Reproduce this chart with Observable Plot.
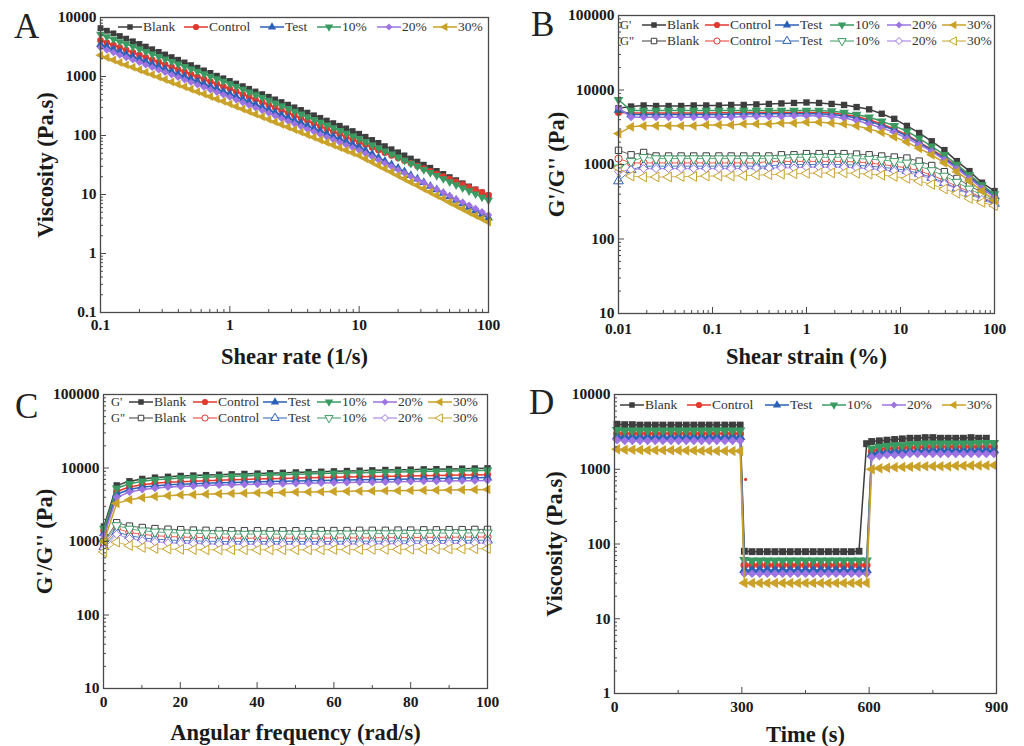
<!DOCTYPE html>
<html><head><meta charset="utf-8">
<script src="https://cdn.jsdelivr.net/npm/d3@7"></script>
<script src="https://cdn.jsdelivr.net/npm/@observablehq/plot@0.6"></script>
<style>
body{margin:0;background:#fff;}
#fig{position:relative;width:1024px;height:746px;overflow:hidden;background:#fff;font-family:"Liberation Serif",serif;}
#fig svg text{font-family:"Liberation Serif",serif;}
.letter{position:absolute;font-size:35px;color:#222;line-height:1;font-family:"Liberation Serif",serif;}
.leg{position:absolute;font-size:13.5px;color:#333;white-space:nowrap;line-height:14px;font-family:"Liberation Serif",serif;}
g[aria-label="x-axis label"], g[aria-label="y-axis label"]{font-size:22.5px;font-weight:bold;fill:#1a1a1a;}
g[aria-label="x-axis tick label"], g[aria-label="y-axis tick label"]{font-size:15.5px;font-weight:bold;fill:#1a1a1a;}
</style>
</head><body>
<div id="fig"></div>
<script>
// ---------- series ----------
const seriesNames = ["Blank","Control","Test","10%","20%","30%"];
const colors = ["#3d3d3d","#e2392f","#2b61b6","#3a9a62","#9d74e2","#c9a227"];

// ---------- Panel A: viscosity vs shear rate ----------
const rateA = [0.1,0.112,0.126,0.141,0.158,0.178,0.2,0.224,0.251,0.282,0.316,0.355,0.398,0.447,0.501,0.562,0.631,0.708,0.794,0.891,1,1.12,1.26,1.41,1.58,1.78,2,2.24,2.51,2.82,3.16,3.55,3.98,4.47,5.01,5.62,6.31,7.08,7.94,8.91,10,11.2,12.6,14.1,15.8,17.8,20,22.4,25.1,28.2,31.6,35.5,39.8,44.7,50.1,56.2,63.1,70.8,79.4,89.1,100];
const blankA = [6600,5960,5380,4850,4380,3950,3560,3210,2900,2610,2360,2130,1920,1730,1560,1410,1270,1150,1030,933,840,760,685,618,557,502,453,409,369,333,300,271,244,220,199,179,162,146,132,119,107,95,84,75,66,58.5,51.9,46,40.7,36.1,32,28.4,25.1,22.3,19.7,17.5,15.5,13.7,12.2,10.8,9.5];
const controlA = [4100,3733,3396,3090,2808,2553,2323,2113,1923,1750,1590,1446,1315,1197,1089,990,901,819,745,678,617,556,501,451,406,366,330,298,268,242,218,196,177,159,144,129,117,105,94.7,85.3,76.9,69.4,62.5,56.5,50.9,45.9,41.4,37.4,33.7,30.4,27.4,24.8,22.3,20.1,18.2,16.4,14.8,13.3,12,10.9,9.8];
const testA = [3500,3177,2884,2618,2377,2160,1963,1782,1618,1469,1334,1211,1099,998,906,823,748,679,617,560,508,458,413,372,336,303,273,246,222,200,180,163,147,132,119,107,96.8,87.3,78.7,71,64,55.7,48.5,42.2,36.7,32,27.9,24.3,21.1,18.4,16,13.9,12.1,10.5,9.2,8,7,6.1,5.3,4.6,4];
const p10A = [5200,4720,4285,3890,3532,3206,2911,2642,2399,2178,1977,1795,1629,1479,1343,1219,1107,1005,912,828,752,675,607,545,490,440,394,355,318,286,257,231,207,186,167,150,135,121,109,98,88,78,69,61.4,54.5,48.3,42.9,38,33.7,29.9,26.5,23.6,20.9,18.5,16.4,14.6,12.9,11.5,10.2,9,8];
const p20A = [3100,2812,2553,2317,2102,1908,1731,1572,1427,1295,1175,1066,968,878,797,723,657,596,541,491,446,402,362,326,294,265,239,216,194,175,158,142,128,116,104,94,84.7,76.4,68.9,62.1,56,49.3,43.5,38.3,33.8,29.8,26.2,23.1,20.4,18,15.9,14,12.3,10.9,9.6,8.4,7.4,6.6,5.8,5.1,4.5];
const p30A = [2300,2094,1904,1731,1574,1431,1302,1184,1076,979,890,809,736,670,609,554,504,458,416,379,344,311,282,255,230,208,188,170,154,139,126,114,103,93.1,84.1,76.2,68.9,62.2,56.2,50.9,46,40.4,35.5,31.1,27.4,24,21,18.5,16.2,14.3,12.5,11,9.6,8.5,7.4,6.5,5.7,5,4.4,3.9,3.4];
const yTicksA = [0.1,1,10,100,1000,10000];
const xTicksA = [0.1,1,10,100];

// ---------- Panel B: amplitude sweep ----------
const strainB = [0.01,0.0136,0.0185,0.0251,0.0341,0.0464,0.0631,0.0858,0.117,0.158,0.215,0.293,0.398,0.541,0.736,1,1.36,1.85,2.51,3.41,4.64,6.31,8.58,11.7,15.8,21.5,29.3,39.8,54.1,73.6,100];
const gpBlankB = [5700,6000,6200,6100,6100,6100,6200,6200,6200,6300,6300,6400,6500,6600,6700,6800,6700,6500,6300,5900,5500,4800,4100,3300,2650,2050,1560,1110,815,570,440];
const gpControlB = [5000,4900,4900,4900,4900,4900,4900,4900,4950,4950,5000,5000,5000,5000,5000,5000,5000,4900,4700,4400,4000,3500,3000,2500,2000,1600,1250,950,700,520,390];
const gpTestB = [5400,4700,4700,4700,4700,4700,4700,4700,4700,4750,4750,4800,4800,4800,4800,4800,4800,4700,4500,4200,3800,3350,2900,2400,1950,1550,1200,920,680,500,380];
const gp10B = [7400,5300,5300,5300,5300,5300,5300,5300,5300,5300,5300,5300,5300,5300,5300,5300,5300,5200,5000,4700,4300,3800,3300,2800,2250,1750,1350,1000,730,530,400];
const gp20B = [5800,4300,4300,4300,4300,4300,4300,4300,4300,4300,4400,4400,4400,4400,4500,4500,4500,4400,4200,3900,3500,3100,2700,2250,1850,1500,1150,880,650,480,360];
const gp30B = [2600,3200,3300,3300,3300,3300,3300,3400,3400,3400,3500,3500,3500,3600,3600,3700,3700,3600,3500,3300,3000,2700,2350,2000,1650,1350,1050,800,600,440,330];
const gppBlankB = [1550,1350,1450,1300,1300,1300,1300,1300,1300,1300,1300,1300,1300,1350,1350,1400,1400,1400,1400,1380,1350,1300,1260,1220,1110,970,800,650,520,420,340];
const gppControlB = [1200,1050,1050,1050,1050,1050,1050,1050,1050,1050,1050,1050,1100,1100,1100,1100,1100,1100,1100,1080,1050,1000,950,900,820,720,610,510,430,360,310];
const gppTestB = [600,850,950,950,950,950,950,950,950,950,950,950,950,1000,1000,1000,1000,1000,1000,980,950,920,880,830,760,670,570,480,410,350,300];
const gpp10B = [900,1100,1250,1200,1200,1200,1200,1200,1200,1200,1200,1200,1200,1200,1250,1250,1250,1250,1250,1200,1180,1150,1100,1050,950,830,700,580,470,390,320];
const gpp20B = [800,850,880,880,880,880,880,880,880,880,880,900,900,900,900,920,920,920,920,900,880,850,820,780,720,640,550,470,400,340,290];
const gpp30B = [900,700,680,680,680,690,690,700,700,700,710,720,730,740,750,760,770,770,770,760,740,720,690,650,600,540,470,410,350,310,280];
const yTicksB = [10,100,1000,10000,100000];
const xTicksB = [0.01,0.1,1,10,100];

// ---------- Panel C: frequency sweep ----------
const freqC = [0.1,3.43,6.76,10.1,13.4,16.8,20.1,23.4,26.7,30.1,33.4,36.7,40.1,43.4,46.7,50.1,53.4,56.7,60,63.4,66.7,70,73.4,76.7,80,83.4,86.7,90,93.4,96.7,100];
const gpBlankC = [1600,5800,6600,7100,7400,7600,7800,7900,8000,8100,8200,8300,8400,8500,8600,8700,8800,8900,9000,9100,9200,9300,9400,9450,9500,9600,9650,9700,9800,9850,9900];
const gpControlC = [1400,4800,5500,5900,6200,6400,6500,6600,6700,6800,6900,7000,7100,7150,7200,7300,7350,7400,7500,7550,7600,7650,7700,7750,7800,7850,7900,7950,8000,8050,8100];
const gpTestC = [1300,4400,5100,5500,5700,5900,6000,6100,6200,6300,6350,6400,6500,6550,6600,6650,6700,6750,6800,6850,6900,6950,7000,7050,7100,7150,7200,7250,7300,7350,7400];
const gp10C = [1500,5300,6100,6600,6900,7100,7300,7400,7500,7600,7700,7800,7900,8000,8100,8200,8300,8400,8500,8550,8600,8700,8800,8850,8900,9000,9050,9100,9150,9200,9300];
const gp20C = [1200,4000,4700,5100,5300,5500,5600,5700,5800,5850,5900,5950,6000,6050,6100,6150,6200,6250,6300,6350,6400,6400,6450,6500,6550,6600,6600,6650,6700,6700,6750];
const gp30C = [1000,3300,3700,3950,4100,4200,4300,4350,4400,4450,4500,4550,4600,4620,4650,4700,4720,4750,4800,4820,4850,4870,4900,4920,4950,4970,5000,5020,5050,5070,5100];
const gppBlankC = [1000,1800,1620,1550,1500,1470,1450,1430,1420,1410,1400,1400,1400,1400,1400,1400,1400,1410,1410,1410,1420,1420,1420,1430,1430,1440,1440,1450,1450,1460,1460];
const gppControlC = [900,1500,1330,1250,1200,1170,1150,1140,1130,1120,1110,1110,1110,1110,1110,1110,1110,1110,1120,1120,1120,1120,1130,1130,1130,1140,1140,1140,1150,1150,1150];
const gppTestC = [850,1350,1200,1120,1080,1050,1030,1020,1010,1000,1000,1000,1000,1000,1000,1000,1000,1000,1000,1010,1010,1010,1010,1020,1020,1020,1030,1030,1030,1040,1040];
const gpp10C = [950,1650,1480,1400,1350,1320,1300,1290,1280,1270,1260,1260,1260,1260,1260,1260,1260,1260,1270,1270,1270,1280,1280,1280,1290,1290,1300,1300,1300,1310,1310];
const gpp20C = [800,1250,1100,1030,990,960,950,940,930,920,920,920,920,920,920,920,920,920,920,920,930,930,930,930,940,940,940,940,950,950,950];
const gpp30C = [720,980,880,830,800,790,780,775,770,770,770,770,770,770,770,770,770,770,775,775,775,780,780,780,785,785,790,790,790,795,800];
const yTicksC = [10,100,1000,10000,100000];
const xTicksC = [0,20,40,60,80,100];
const xMinorC = [10,30,50,70,90];

// ---------- Panel D: three-interval thixotropy ----------
const timeD = [6,24,42,60,78,96,114,133,151,169,187,205,223,241,260,278,296,
  306,324,342,360,378,396,414,432,450,468,486,504,522,540,558,576,594,
  606,624,642,660,678,696,714,732,750,768,786,804,822,840,858,876,894];
const blankD = [4000,3950,3950,3900,3900,3900,3900,3900,3900,3900,3900,3900,3900,3900,3900,3900,3900,
  80,79,79,79,79,79,79,79,79,79,79,79,79,79,79,80,
  2200,2350,2400,2450,2500,2550,2600,2600,2650,2650,2600,2600,2600,2600,2650,2600,2600];
const controlD = [3000,3000,3000,3000,3000,3000,3000,3000,3000,3000,3000,3000,3000,3000,3000,3000,3000,
  52,52,52,52,52,52,52,52,52,52,52,52,52,52,52,52,52,
  1750,1850,1900,1900,1950,1950,1950,2000,2000,2000,2000,2000,2000,2000,2000,2000,2000];
const testD = [2750,2700,2700,2700,2700,2700,2700,2700,2700,2700,2700,2700,2700,2700,2700,2700,2700,
  45,45,45,45,45,45,45,45,45,45,45,45,45,45,45,45,45,
  1600,1700,1700,1750,1750,1750,1750,1800,1800,1800,1800,1800,1800,1800,1800,1800,1800];
const p10D = [3350,3300,3300,3300,3300,3300,3300,3300,3300,3300,3300,3300,3300,3300,3300,3300,3300,
  61,60,60,60,60,60,60,60,60,60,60,60,60,60,60,60,60,
  1900,2000,2050,2100,2100,2150,2150,2200,2200,2200,2200,2200,2200,2200,2250,2250,2250];
const p20D = [2450,2400,2400,2400,2400,2400,2400,2400,2400,2400,2400,2400,2400,2400,2400,2400,2400,
  40,40,40,40,40,40,40,40,40,40,40,40,40,40,40,40,40,
  1450,1500,1550,1550,1550,1600,1600,1600,1600,1600,1600,1600,1600,1600,1600,1600,1600];
const p30D = [1850,1830,1820,1810,1800,1800,1790,1790,1780,1780,1780,1770,1770,1760,1760,1750,1750,
  30,30,30,30,30,30,30,30,30,30,30,30,30,30,30,30,30,
  1000,1030,1050,1060,1070,1080,1090,1100,1100,1100,1100,1110,1110,1120,1120,1120,1130];
const controlSpikeT = [309];
const controlSpikeV = [730];
const yTicksD = [1,10,100,1000,10000];
const xTicksD = [0,300,600,900];
const xMinorD = [150,450,750];

// ---------- helpers ----------
function triangle(angle){
  return {draw(ctx, size){
    const y = -Math.sqrt(size / (Math.sqrt(3) * 3));
    const pts = [[0, 2*y], [-Math.sqrt(3)*y, -y], [Math.sqrt(3)*y, -y]];
    const c = Math.cos(angle), s = Math.sin(angle);
    pts.forEach(([px,py], i) => {
      const X = px*c - py*s, Y = px*s + py*c;
      i ? ctx.lineTo(X, Y) : ctx.moveTo(X, Y);
    });
    ctx.closePath();
  }};
}
const symbols = [d3.symbolSquare, d3.symbolCircle, triangle(0), triangle(Math.PI), d3.symbolDiamond2, triangle(-Math.PI/2)];
const minors = majors => majors.slice(0, -1).flatMap(m => [2,3,4,5,6,7,8,9].map(k => m * k));

function seriesMarks(xs, ys, idx, {filled = true, r = 3.5, sw = 1.5, opacity = 1} = {}) {
  const data = ys.map((v, i) => ({x: xs[i], y: v}));
  return [
    Plot.line(data, {x: "x", y: "y", stroke: colors[idx], strokeWidth: sw, strokeOpacity: opacity}),
    Plot.dot(data, {x: "x", y: "y", r, symbol: symbols[idx],
      fill: filled ? colors[idx] : "white", stroke: filled ? "none" : colors[idx], strokeWidth: 1})
  ];
}

const frameColor = "#4a4a4a";
function chart(o) {
  return Plot.plot({
    width: 512, height: 373,
    marginLeft: o.ml, marginRight: o.mr, marginTop: o.mt, marginBottom: o.mb,
    style: {fontFamily: "Liberation Serif", background: "transparent", color: "#1a1a1a", overflow: "visible"},
    x: o.x, y: o.y,
    marks: [
      ...o.marks,
      Plot.frame({stroke: frameColor, strokeWidth: 1.3}),
      Plot.axisY(o.yMajor, {anchor: "left", tickSize: 0, tickPadding: 4, tickFormat: d => String(d), label: o.yLabel, labelAnchor: "center", labelArrow: false, labelOffset: o.yLabelOffset}),
      Plot.axisY(o.yMajor, {anchor: "left", tickSize: 6, dx: 6, tickFormat: () => "", label: null, stroke: frameColor}),
      Plot.axisY(o.yMinor, {anchor: "left", tickSize: 3, dx: 3, tickFormat: () => "", label: null, stroke: frameColor}),
      Plot.axisX(o.xMajor, {anchor: "bottom", tickSize: 0, tickPadding: o.xPad, tickFormat: d => String(d), label: o.xLabel, labelAnchor: "center", labelArrow: false, labelOffset: o.xLabelOffset}),
      Plot.axisX(o.xMajor, {anchor: "bottom", tickSize: 6, dy: -6, tickFormat: () => "", label: null, stroke: frameColor}),
      Plot.axisX(o.xMinor, {anchor: "bottom", tickSize: 3, dy: -3, tickFormat: () => "", label: null, stroke: frameColor})
    ]
  });
}

const fig = document.getElementById("fig");
function place(node, left, top) {
  const d = document.createElement("div");
  d.style.position = "absolute"; d.style.left = left + "px"; d.style.top = top + "px";
  d.appendChild(node); fig.appendChild(d);
}
function letter(t, left, top) {
  const d = document.createElement("div");
  d.className = "letter"; d.textContent = t;
  d.style.left = left + "px"; d.style.top = top + "px";
  fig.appendChild(d);
}
function legendItem(left, y, idx, filled, label) {
  const w = 24;
  const svg = d3.select(fig).append("svg")
    .style("position", "absolute").style("left", left + "px").style("top", (y - 6) + "px")
    .attr("width", w).attr("height", 12);
  svg.append("line").attr("x1", 0).attr("x2", w).attr("y1", 6).attr("y2", 6)
    .attr("stroke", colors[idx]).attr("stroke-width", filled ? 1.5 : 1);
  svg.append("path").attr("transform", "translate(12,6)")
    .attr("d", d3.symbol(symbols[idx], 30)())
    .attr("fill", filled ? colors[idx] : "white")
    .attr("stroke", filled ? "none" : colors[idx]).attr("stroke-width", 1);
  d3.select(fig).append("div").attr("class", "leg")
    .style("left", (left + w + 1) + "px").style("top", (y - 7) + "px").text(label);
}
function legendText(t, left, y) {
  d3.select(fig).append("div").attr("class", "leg")
    .style("left", left + "px").style("top", (y - 7) + "px").style("font-size", "12.5px").text(t);
}

// ---------- Panel A ----------
const seriesA = [blankA, controlA, testA, p10A, p20A, p30A];
place(chart({
  ml: 100, mr: 24, mt: 17, mb: 61, xPad: 6,
  x: {type: "log", domain: [0.1, 100]},
  y: {type: "log", domain: [0.1, 10000]},
  xMajor: xTicksA, xMinor: minors(xTicksA), yMajor: yTicksA, yMinor: minors(yTicksA),
  xLabel: "Shear rate (1/s)", yLabel: "Viscosity (Pa.s)",
  xLabelOffset: 51, yLabelOffset: 63,
  marks: seriesA.flatMap((s, i) => seriesMarks(rateA, s, i, {r: 3.3}))
}), 0, 0);

// ---------- Panel B ----------
const gpB = [gpBlankB, gpControlB, gpTestB, gp10B, gp20B, gp30B];
const gppB = [gppBlankB, gppControlB, gppTestB, gpp10B, gpp20B, gpp30B];
place(chart({
  ml: 106, mr: 30, mt: 15, mb: 60, xPad: 9,
  x: {type: "log", domain: [0.01, 100]},
  y: {type: "log", domain: [10, 100000]},
  xMajor: xTicksB, xMinor: minors(xTicksB), yMajor: yTicksB, yMinor: minors(yTicksB),
  xLabel: "Shear strain (%)", yLabel: "G'/G'' (Pa)",
  xLabelOffset: 50, yLabelOffset: 70,
  marks: [
    ...gppB.flatMap((s, i) => seriesMarks(strainB, s, i, {filled: false, r: 3.6, sw: 1, opacity: 0.8})),
    ...gpB.flatMap((s, i) => seriesMarks(strainB, s, i, {r: 3.6}))
  ]
}), 512, 0);

// ---------- Panel C ----------
const gpC = [gpBlankC, gpControlC, gpTestC, gp10C, gp20C, gp30C];
const gppC = [gppBlankC, gppControlC, gppTestC, gpp10C, gpp20C, gpp30C];
place(chart({
  ml: 103, mr: 25, mt: 21, mb: 58, xPad: 7,
  x: {type: "linear", domain: [0, 100]},
  y: {type: "log", domain: [10, 100000]},
  xMajor: xTicksC, xMinor: xMinorC, yMajor: yTicksC, yMinor: minors(yTicksC),
  xLabel: "Angular frequency (rad/s)", yLabel: "G'/G'' (Pa)",
  xLabelOffset: 51, yLabelOffset: 67,
  marks: [
    ...gppC.flatMap((s, i) => seriesMarks(freqC, s, i, {filled: false, r: 3.6, sw: 1, opacity: 0.8})),
    ...gpC.flatMap((s, i) => seriesMarks(freqC, s, i, {r: 3.6}))
  ]
}), 0, 373);

// ---------- Panel D ----------
const seriesD = [blankD, controlD, testD, p10D, p20D, p30D];
place(chart({
  ml: 102, mr: 28, mt: 21, mb: 53, xPad: 7,
  x: {type: "linear", domain: [0, 900]},
  y: {type: "log", domain: [1, 10000]},
  xMajor: xTicksD, xMinor: xMinorD, yMajor: yTicksD, yMinor: minors(yTicksD),
  xLabel: "Time (s)", yLabel: "Viscosity (Pa.s)",
  xLabelOffset: 48, yLabelOffset: 68,
  marks: [
    ...seriesD.flatMap((s, i) => seriesMarks(timeD, s, i, {r: 3.9})),
    Plot.dot(controlSpikeT.map((t, i) => ({x: t, y: controlSpikeV[i]})), {x: "x", y: "y", r: 1.6, fill: colors[1]})
  ]
}), 512, 373);

// ---------- panel letters ----------
letter("A", 14, 9);
letter("B", 531, 7);
letter("C", 15, 389);
letter("D", 529, 385);

// ---------- legends ----------
[118, 184, 260, 317, 377, 433].forEach((x, i) => legendItem(x, 27, i, true, seriesNames[i]));
legendText("G'", 620, 25); legendText('G"', 620, 41);
[642, 705, 775, 830, 887, 942].forEach((x, i) => { legendItem(x, 25, i, true, seriesNames[i]); legendItem(x, 41, i, false, seriesNames[i]); });
legendText("G'", 111, 402); legendText('G"', 111, 418);
[129, 193, 263, 317, 373, 428].forEach((x, i) => { legendItem(x, 402, i, true, seriesNames[i]); legendItem(x, 418, i, false, seriesNames[i]); });
[620, 687, 765, 822, 882, 942].forEach((x, i) => legendItem(x, 405, i, true, seriesNames[i]));
</script>
</body></html>
